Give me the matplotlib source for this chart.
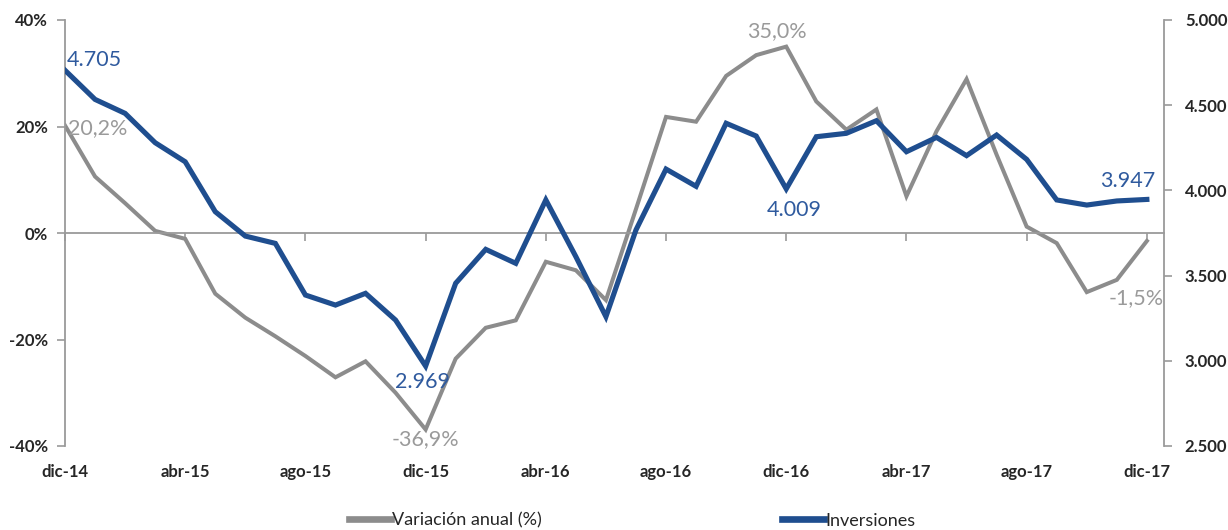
import numpy as np
import matplotlib
matplotlib.use("Agg")
import matplotlib.pyplot as plt
from matplotlib.ticker import FuncFormatter

plt.rcParams['font.family'] = ['Lato', 'DejaVu Sans']

# monthly series dic-14 .. dic-17
months = ["dic-14", "ene-15", "feb-15", "mar-15", "abr-15", "may-15", "jun-15", "jul-15",
          "ago-15", "sep-15", "oct-15", "nov-15", "dic-15", "ene-16", "feb-16", "mar-16",
          "abr-16", "may-16", "jun-16", "jul-16", "ago-16", "sep-16", "oct-16", "nov-16",
          "dic-16", "ene-17", "feb-17", "mar-17", "abr-17", "may-17", "jun-17", "jul-17",
          "ago-17", "sep-17", "oct-17", "nov-17", "dic-17"]
variacion = [20.2, 10.6, 5.6, 0.4, -1.1, -11.4, -15.9, -19.4, -23.1, -27.1, -24.1, -30.0,
             -36.9, -23.6, -17.8, -16.4, -5.4, -7.0, -12.6, 4.5, 21.8, 20.9, 29.5, 33.4,
             35.0, 24.7, 19.4, 23.2, 6.9, 19.1, 28.9, 14.7, 1.2, -1.9, -11.1, -8.8, -1.5]
inversiones = [4705, 4534, 4452, 4280, 4168, 3875, 3732, 3689, 3386, 3327, 3396, 3239,
               2969, 3455, 3654, 3572, 3944, 3611, 3259, 3768, 4125, 4024, 4394, 4319,
               4009, 4315, 4335, 4409, 4227, 4311, 4204, 4325, 4182, 3944, 3914, 3938, 3947]

# labelled points: (index, text)
var_labels = [(0, "20,2%"), (12, "-36,9%"), (24, "35,0%"), (36, "-1,5%")]
inv_labels = [(0, "4.705"), (12, "2.969"), (24, "4.009"), (36, "3.947")]

GRAY = "#8c8c8c"
GRAY_TXT = "#9a9a9a"
BLUE = "#1f4e8f"
BLUE_TXT = "#2f5a9e"
AXC = "#9a9a9a"
TXT = "#262626"

x = np.arange(len(months))

fig = plt.figure(figsize=(12.28, 5.30), dpi=100)
ax = fig.add_axes([65/1228, 1 - 446/530, (1164 - 65)/1228, (446 - 20)/530])
ax2 = ax.twinx()

ax.plot(x, variacion, color=GRAY, lw=2.9, solid_joinstyle='miter', zorder=2,
        label="Variación anual (%)")
ax2.plot(x, inversiones, color=BLUE, lw=3.7, solid_joinstyle='miter', zorder=3,
         label="Inversiones")

ax.set_xlim(0, 36.57)
ax.set_ylim(-40, 40)
ax2.set_ylim(2500, 5000)
ax.set_yticks([-40, -20, 0, 20, 40])
ax2.set_yticks([2500, 3000, 3500, 4000, 4500, 5000])
ax.yaxis.set_major_formatter(FuncFormatter(lambda v, p: f"{v:.0f}%"))
ax2.yaxis.set_major_formatter(FuncFormatter(lambda v, p: f"{v:,.0f}".replace(",", ".")))

for a in (ax, ax2):
    for s in a.spines.values():
        s.set_visible(False)
ax.spines['left'].set_visible(True)
ax.spines['left'].set_color(AXC)
ax.spines['left'].set_linewidth(1.3)
ax2.spines['right'].set_visible(True)
ax2.spines['right'].set_color(AXC)
ax2.spines['right'].set_linewidth(1.3)
ax.spines['bottom'].set_visible(True)
ax.spines['bottom'].set_position(('data', 0))
ax.spines['bottom'].set_color(AXC)
ax.spines['bottom'].set_linewidth(1.3)

ax.tick_params(axis='y', colors=AXC, labelcolor=TXT, labelsize=12, length=6,
               width=1.2, pad=6)
ax2.tick_params(axis='y', colors=AXC, labelcolor=TXT, labelsize=12, length=6,
                width=1.2, pad=9)
for lab in ax.get_yticklabels() + ax2.get_yticklabels():
    lab.set_fontweight('bold')

tick_idx = list(range(0, len(months), 4))
ax.set_xticks(tick_idx)
ax.set_xticklabels([])
ax.tick_params(axis='x', colors=AXC, length=6, width=1.2, direction='out')

sec = ax.secondary_xaxis('bottom')
sec.spines['bottom'].set_visible(False)
sec.set_xticks(tick_idx)
sec.set_xticklabels([months[i] for i in tick_idx], fontweight='bold')
sec.tick_params(axis='x', length=0, pad=13, labelsize=12, labelcolor=TXT)

# data labels
fs = 15.5
i, t = var_labels[0]
ax.annotate(t, (x[i], variacion[i]), xytext=(2, -2), textcoords='offset points',
            ha='left', va='center', color=GRAY_TXT, fontsize=fs)
i, t = var_labels[1]
ax.annotate(t, (x[i], variacion[i]), xytext=(0, 0), textcoords='offset points',
            ha='center', va='top', color=GRAY_TXT, fontsize=fs)
i, t = var_labels[2]
ax.annotate(t, (x[i], variacion[i]), xytext=(-7, 4), textcoords='offset points',
            ha='center', va='bottom', color=GRAY_TXT, fontsize=fs)
i, t = var_labels[3]
ax.annotate(t, (x[i], variacion[i]), xytext=(-8, -41), textcoords='offset points',
            ha='center', va='center', color=GRAY_TXT, fontsize=fs)

i, t = inv_labels[0]
ax2.annotate(t, (x[i], inversiones[i]), xytext=(1, 0), textcoords='offset points',
             ha='left', va='bottom', color=BLUE_TXT, fontsize=fs)
i, t = inv_labels[1]
ax2.annotate(t, (x[i], inversiones[i]), xytext=(-2, -4), textcoords='offset points',
             ha='center', va='top', color=BLUE_TXT, fontsize=fs)
i, t = inv_labels[2]
ax2.annotate(t, (x[i], inversiones[i]), xytext=(6, -8), textcoords='offset points',
             ha='center', va='top', color=BLUE_TXT, fontsize=fs)
i, t = inv_labels[3]
ax2.annotate(t, (x[i], inversiones[i]), xytext=(-14, 6), textcoords='offset points',
             ha='center', va='bottom', color=BLUE_TXT, fontsize=fs)

h1, l1 = ax.get_legend_handles_labels()
h2, l2 = ax2.get_legend_handles_labels()
leg = fig.legend(h1 + h2, l1 + l2, loc='center', bbox_to_anchor=(0.515, 0.018), ncol=2,
                 frameon=False, fontsize=13, handlelength=2.3, handletextpad=0.08,
                 columnspacing=13.3, labelcolor=TXT, borderpad=0.2)
for ln in leg.get_lines():
    ln.set_linewidth(4.8)

fig.savefig("out.png", dpi=100)
